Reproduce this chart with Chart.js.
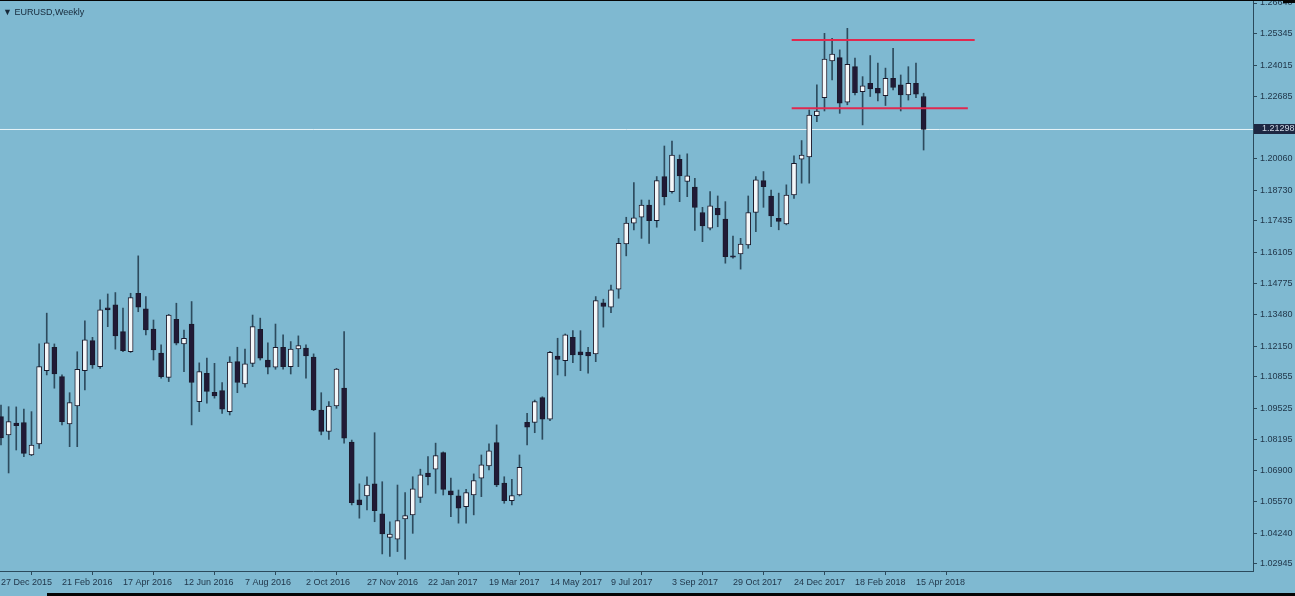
<!DOCTYPE html>
<html>
<head>
<meta charset="utf-8">
<title>EURUSD,Weekly</title>
<script src="https://cdn.jsdelivr.net/npm/chart.js@4.4.1/dist/chart.umd.min.js"></script>
<style>
  html, body { margin: 0; padding: 0; background: #7fb9d1; }
  #wrap { position: relative; width: 1295px; height: 596px; overflow: hidden; }
  #title { position: absolute; left: 3px; top: 7px; font: 9px "Liberation Sans", Arial, sans-serif; color: #16293a; }
  .blk { position: absolute; background: #050505; }
</style>
</head>
<body>
<div id="wrap">
  <canvas id="myChart" width="1295" height="596"></canvas>
  <div id="title">&#9660; EURUSD,Weekly</div>
  <div class="blk" style="left:0;top:0;width:1295px;height:1px"></div>
  <div class="blk" style="left:1283px;top:0;width:12px;height:3px"></div>
  <div class="blk" style="left:47px;top:593px;width:1248px;height:3px"></div>
</div>
<script>
// weekly EURUSD candles, one per week starting 27 Dec 2015
const open  = [1.0917,1.0840,1.0890,1.0892,1.0755,1.0802,1.1111,1.1210,1.1086,1.0886,
  1.0962,1.1111,1.1238,1.1128,1.1377,1.1389,1.1276,1.1191,1.1438,1.1372,
  1.1287,1.1185,1.1083,1.1328,1.1224,1.1308,1.0980,1.1100,1.1020,1.1027,
  1.0938,1.1149,1.1055,1.1142,1.1286,1.1156,1.1126,1.1210,1.1128,1.1203,
  1.1206,1.1168,1.0945,1.0854,1.0962,1.1037,1.0809,1.0565,1.0582,1.0633,
  1.0506,1.0407,1.0399,1.0485,1.0502,1.0576,1.0678,1.0695,1.0765,1.0604,
  1.0582,1.0537,1.0586,1.0657,1.0709,1.0807,1.0636,1.0562,1.0586,1.0893,
  1.0892,1.0997,1.0906,1.1173,1.1153,1.1252,1.1191,1.1189,1.1182,1.1398,
  1.1379,1.1455,1.1646,1.1734,1.1759,1.1811,1.1745,1.1931,1.1867,1.2004,
  1.1910,1.1887,1.1779,1.1713,1.1797,1.1751,1.1596,1.1604,1.1642,1.1779,
  1.1914,1.1849,1.1755,1.1731,1.1853,1.2004,1.2014,1.2188,1.2264,1.2419,
  1.2433,1.2245,1.2395,1.2290,1.2325,1.2304,1.2273,1.2346,1.2318,1.2276,
  1.2325,1.2269];
const high  = [1.0966,1.0959,1.0958,1.0949,1.0938,1.1224,1.1354,1.1224,1.1093,1.1018,
  1.1191,1.1322,1.1252,1.1410,1.1435,1.1441,1.1375,1.1438,1.1596,1.1424,
  1.1325,1.1220,1.1349,1.1396,1.1283,1.1403,1.1144,1.1164,1.1142,1.1061,
  1.1170,1.1210,1.1202,1.1346,1.1333,1.1229,1.1308,1.1262,1.1234,1.1258,
  1.1220,1.1182,1.1018,1.0980,1.1121,1.1276,1.0818,1.0633,1.0663,1.0849,
  1.0642,1.0473,1.0628,1.0596,1.0663,1.0695,1.0748,1.0805,1.0768,1.0657,
  1.0607,1.0610,1.0675,1.0755,1.0802,1.0882,1.0663,1.0652,1.0755,1.0931,
  1.0987,1.1001,1.1193,1.1248,1.1266,1.1280,1.1280,1.1210,1.1424,1.1413,
  1.1473,1.1670,1.1759,1.1905,1.1832,1.1832,1.1931,1.2060,1.2081,1.2022,
  1.2027,1.1923,1.1801,1.1867,1.1849,1.1825,1.1680,1.1670,1.1849,1.1931,
  1.1952,1.1874,1.1861,1.1896,1.2018,1.2083,1.2212,1.2318,1.2536,1.2515,
  1.2466,1.2557,1.2431,1.2353,1.2442,1.2410,1.2389,1.2473,1.2360,1.2395,
  1.2410,1.2283];
const low   = [1.0797,1.0679,1.0776,1.0748,1.0752,1.0783,1.1093,1.1037,1.0882,1.0790,
  1.0790,1.1030,1.1121,1.1121,1.1297,1.1202,1.1191,1.1188,1.1360,1.1262,
  1.1156,1.1079,1.1065,1.1220,1.1107,1.0882,1.0938,1.0974,1.0995,1.0931,
  1.0924,1.1018,1.1041,1.1128,1.1156,1.1097,1.1117,1.1117,1.1097,1.1128,
  1.1079,1.0942,1.0840,1.0821,1.0952,1.0805,1.0544,1.0488,1.0523,1.0473,
  1.0337,1.0326,1.0347,1.0315,1.0424,1.0554,1.0628,1.0593,1.0586,1.0494,
  1.0467,1.0467,1.0502,1.0579,1.0692,1.0621,1.0551,1.0544,1.0582,1.0797,
  1.0849,1.0821,1.0900,1.1093,1.1089,1.1145,1.1111,1.1100,1.1149,1.1295,
  1.1356,1.1417,1.1596,1.1706,1.1670,1.1649,1.1717,1.1811,1.1861,1.1825,
  1.1846,1.1703,1.1656,1.1706,1.1719,1.1565,1.1586,1.1540,1.1628,1.1698,
  1.1801,1.1719,1.1706,1.1727,1.1839,1.1903,1.1903,1.2163,1.2208,1.2339,
  1.2198,1.2234,1.2276,1.2149,1.2269,1.2250,1.2231,1.2297,1.2208,1.2254,
  1.2264,1.2043];
const close = [1.0827,1.0896,1.0879,1.0762,1.0797,1.1128,1.1229,1.1097,1.0896,1.0976,
  1.1117,1.1241,1.1135,1.1368,1.1368,1.1258,1.1196,1.1420,1.1379,1.1283,
  1.1199,1.1086,1.1346,1.1227,1.1248,1.1061,1.1107,1.1023,1.1004,1.0948,
  1.1147,1.1061,1.1140,1.1297,1.1164,1.1126,1.1210,1.1128,1.1202,1.1217,
  1.1173,1.0945,1.0854,1.0962,1.1118,1.0826,1.0554,1.0544,1.0628,1.0520,
  1.0421,1.0421,1.0478,1.0499,1.0612,1.0671,1.0663,1.0752,1.0610,1.0586,
  1.0530,1.0596,1.0647,1.0713,1.0773,1.0628,1.0562,1.0583,1.0703,1.0872,
  1.0980,1.0906,1.1189,1.1159,1.1262,1.1178,1.1178,1.1173,1.1407,1.1382,
  1.1452,1.1649,1.1734,1.1757,1.1811,1.1745,1.1914,1.1846,1.2022,1.1934,
  1.1934,1.1801,1.1722,1.1807,1.1769,1.1593,1.1590,1.1646,1.1779,1.1917,
  1.1888,1.1765,1.1741,1.1853,1.1987,1.2022,1.2191,1.2208,1.2427,1.2448,
  1.2241,1.2405,1.2285,1.2314,1.2301,1.2283,1.2346,1.2307,1.2276,1.2325,
  1.2279,1.2130];

const dateLabels = ["27 Dec 2015","21 Feb 2016","17 Apr 2016","12 Jun 2016","7 Aug 2016","2 Oct 2016",
  "27 Nov 2016","22 Jan 2017","19 Mar 2017","14 May 2017","9 Jul 2017","3 Sep 2017",
  "29 Oct 2017","24 Dec 2017","18 Feb 2018","15 Apr 2018"];
const dateWeeks = [0,8,16,24,32,40,48,56,64,72,80,88,96,104,112,120];
const priceTicks = [1.26640,1.25345,1.24015,1.22685,1.20060,1.18730,1.17435,1.16105,1.14775,
  1.13480,1.12150,1.10855,1.09525,1.08195,1.06900,1.05570,1.04240,1.02945];
const lastPrice = 1.21298;

// the two red levels drawn by hand on the chart
const levelPrice = [1.2508, 1.2219];
const levelFrom = [103.7, 103.7];
const levelTo = [127.7, 126.8];

const xMin = -0.13, xMax = 164.2;
const yMin = 1.02649, yMax = 1.26767;

const bull = "#f4f7f9", bear = "#211a36", wick = "#2d4b5e", edge = "#1b1a2c";

let bodies = [], wicks = [], fills = [];
for (let i = 0; i < open.length; i++) {
  bodies.push({ x: i, y: [open[i], close[i]] });
  wicks.push({ x: i, y: [low[i], high[i]] });
  fills.push(close[i] >= open[i] ? bull : bear);
}

let datasets = [];
for (let k = 0; k < levelPrice.length; k++) {
  datasets.push({
    type: "line",
    data: [{ x: levelFrom[k], y: levelPrice[k] }, { x: levelTo[k], y: levelPrice[k] }],
    borderColor: "#e0294f",
    borderWidth: 2,
    pointRadius: 0,
    order: 0
  });
}
datasets.push({
  type: "bar", data: bodies, backgroundColor: fills, borderColor: edge,
  borderWidth: 1, borderSkipped: false, barThickness: 5, grouped: false, order: 1
});
datasets.push({
  type: "bar", data: wicks, backgroundColor: wick, borderWidth: 0,
  barThickness: 1, grouped: false, order: 2
});
datasets.push({
  type: "line",
  data: [{ x: xMin, y: lastPrice }, { x: xMax, y: lastPrice }],
  borderColor: "#e8f4f8", borderWidth: 1, pointRadius: 0, order: 3
});

const priceBox = {
  id: "priceBox",
  afterDraw(chart) {
    const ctx = chart.ctx;
    const y = Math.round(chart.scales.y.getPixelForValue(lastPrice));
    const x = chart.chartArea.right + 1;
    ctx.save();
    ctx.fillStyle = "#1d2742";
    ctx.fillRect(x, y - 5, 1295 - x, 10);
    ctx.fillStyle = "#cfd8e4";
    ctx.font = "9px 'Liberation Sans', Arial, sans-serif";
    ctx.textBaseline = "middle";
    ctx.fillText(lastPrice.toFixed(5), x + 8, y);
    ctx.restore();
  }
};

new Chart("myChart", {
  type: "bar",
  data: { datasets: datasets },
  plugins: [priceBox],
  options: {
    responsive: false,
    animation: false,
    layout: { padding: 0 },
    plugins: { legend: { display: false }, tooltip: { enabled: false } },
    scales: {
      x: {
        type: "linear", min: xMin, max: xMax, offset: false,
        afterBuildTicks: s => { s.ticks = dateWeeks.map(v => ({ value: v })); },
        afterFit: s => { s.height = 25; s.paddingLeft = 0; s.paddingRight = 0; },
        ticks: {
          align: "start", padding: 2, color: "#1f3447", maxRotation: 0, autoSkip: false,
          font: { family: "'Liberation Sans', Arial, sans-serif", size: 9 },
          callback: v => dateLabels[dateWeeks.indexOf(v)]
        },
        grid: { drawOnChartArea: false, tickLength: 4, color: "#2b4a5c" },
        border: { color: "#2b4a5c", width: 1 }
      },
      y: {
        type: "linear", position: "right", min: yMin, max: yMax,
        afterBuildTicks: s => { s.ticks = priceTicks.map(v => ({ value: v })); },
        afterFit: s => { s.width = 42; s.paddingTop = 0; s.paddingBottom = 0; },
        ticks: {
          padding: 3, color: "#1f3447",
          font: { family: "'Liberation Sans', Arial, sans-serif", size: 9 },
          callback: v => v.toFixed(5)
        },
        grid: { drawOnChartArea: false, tickLength: 4, color: "#2b4a5c" },
        border: { color: "#2b4a5c", width: 1 }
      }
    }
  }
});
</script>
</body>
</html>
